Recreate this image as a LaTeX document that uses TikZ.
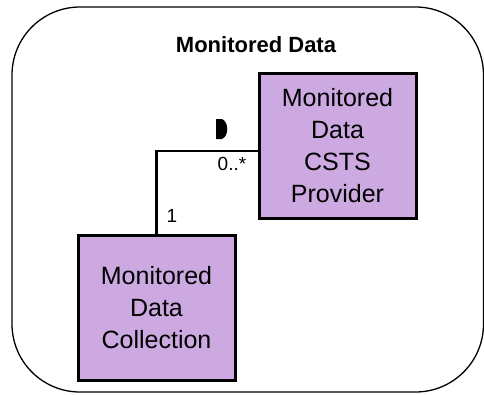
\documentclass[tikz,border=0pt]{standalone}
\usepackage{fontspec}
\setmainfont{Liberation Sans}
\usepackage{xcolor}
\usepackage{tikz}
\usetikzlibrary{arrows.meta,positioning}
\definecolor{lilac}{HTML}{CDA9E2}

\begin{document}
\begin{tikzpicture}[
      x=1pt, y=-1pt,
      cls/.style={draw, line width=3pt, fill=lilac, minimum width=157pt,
        minimum height=145pt, align=center, font=\fontsize{25}{32}\selectfont},
      assoc/.style={line width=2.5pt},
      mult/.style={font=\fontsize{19}{21}\selectfont, inner sep=0pt}
  ]
    \useasboundingbox (0,0) rectangle (484,394);
    \draw[line width=1.3pt, rounded corners=68pt] (12,7) rectangle (483.5,392);
    \node[font=\bfseries\fontsize{22}{24}\selectfont] (title) at (256,45) {Monitored Data};
    \node[cls] (prov) at (337.5,145.5) {Monitored\\Data\\CSTS\\Provider};
    \node[cls] (coll) at (156.5,308) {Monitored\\Data\\Collection};
    \draw[assoc] (coll.north) |- ([yshift=-5.5pt]prov.west);
    \node[mult] (one) at (172,216) {1};
    \node[mult] (many) at (232,164) {0..*};
    \fill (216,119) -- (222,119) .. controls (229,122) and (229,136) .. (222,139) -- (216,139) -- cycle;
  \end{tikzpicture}
\end{document}
